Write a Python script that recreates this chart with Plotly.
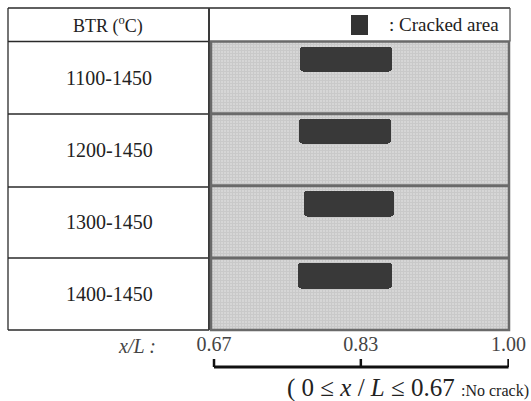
import plotly.graph_objects as go

# ---- data ----
btr_ranges = ["1100-1450", "1200-1450", "1300-1450", "1400-1450"]
crack_start = [0.764, 0.763, 0.769, 0.762]   # x/L
crack_end = [0.868, 0.867, 0.870, 0.868]     # x/L
tick_vals = [0.667, 0.833, 1.0]
tick_text = ["0.67", "0.83", "1.00"]

W, H = 531, 401
SERIF = "Liberation Serif"

def px(x):
    return x / W

def py(y):
    return 1 - y / H

row_top_px = 41.5
row_bot_px = 330
panel_l, panel_r = 211, 509

centers = [i + 0.5 for i in range(len(btr_ranges))]

fig = go.Figure()
fig.add_trace(go.Bar(
    orientation="h",
    y=centers,
    x=[e - s for s, e in zip(crack_start, crack_end)],
    base=crack_start,
    width=0.35,
    offset=-0.43,
    marker=dict(color="#393939", line=dict(width=0), cornerradius=3),
    hoverinfo="skip",
    showlegend=False,
))

shapes = []
line_col = "#2a2a2a"
for yy in [8, row_top_px, 114, 187, 258, row_bot_px]:
    shapes.append(dict(type="line", xref="paper", yref="paper",
                       x0=px(8), x1=px(209), y0=py(yy), y1=py(yy),
                       line=dict(color=line_col, width=1.3)))
shapes.append(dict(type="line", xref="paper", yref="paper",
                   x0=px(209), x1=px(510), y0=py(8), y1=py(8),
                   line=dict(color=line_col, width=1.3)))
shapes.append(dict(type="line", xref="paper", yref="paper",
                   x0=px(8), x1=px(8), y0=py(8), y1=py(row_bot_px),
                   line=dict(color=line_col, width=1.3)))
shapes.append(dict(type="line", xref="paper", yref="paper",
                   x0=px(209), x1=px(209), y0=py(8), y1=py(row_bot_px),
                   line=dict(color="#3a3a3a", width=2)))
shapes.append(dict(type="line", xref="paper", yref="paper",
                   x0=px(510), x1=px(510), y0=py(8), y1=py(row_top_px),
                   line=dict(color="#555555", width=1.3)))
for k in range(1, len(btr_ranges)):
    shapes.append(dict(type="line", xref="paper", yref="y",
                       x0=px(panel_l), x1=px(panel_r), y0=k, y1=k,
                       line=dict(color="#6a6a6a", width=3)))
shapes.append(dict(type="rect", xref="paper", yref="paper",
                   x0=px(panel_l), x1=px(panel_r), y0=py(row_top_px), y1=py(row_bot_px),
                   line=dict(color="#6a6a6a", width=2.5)))
shapes.append(dict(type="rect", xref="paper", yref="paper",
                   x0=px(351), x1=px(368), y0=py(15), y1=py(35),
                   fillcolor="#333333", line=dict(width=0)))
br_y, br_top = 367, 359
shapes.append(dict(type="line", xref="x", yref="paper",
                   x0=tick_vals[0], x1=tick_vals[-1], y0=py(br_y), y1=py(br_y),
                   line=dict(color="#111111", width=3)))
for tv in tick_vals:
    shapes.append(dict(type="line", xref="x", yref="paper",
                       x0=tv, x1=tv, y0=py(br_y), y1=py(br_top),
                       line=dict(color="#111111", width=2.5)))

annotations = []
annotations.append(dict(xref="paper", yref="paper", x=px(108), y=py(25),
                        xanchor="center", yanchor="middle",
                        text="BTR (<sup>o</sup>C)", showarrow=False,
                        font=dict(family=SERIF, size=18, color="#222")))
annotations.append(dict(xref="paper", yref="paper", x=px(501), y=py(24),
                        xanchor="right", yanchor="middle",
                        text=": Cracked area", showarrow=False,
                        font=dict(family=SERIF, size=19, color="#222")))
for lab, c in zip(btr_ranges, centers):
    annotations.append(dict(xref="paper", yref="y", x=px(109), y=c,
                            xanchor="center", yanchor="middle",
                            text=lab, showarrow=False,
                            font=dict(family=SERIF, size=20, color="#222")))
annotations.append(dict(xref="paper", yref="paper", x=px(158), y=py(346),
                        xanchor="right", yanchor="middle",
                        text="<i>x/L :</i>", showarrow=False,
                        font=dict(family=SERIF, size=20, color="#444")))
annotations.append(dict(xref="paper", yref="paper", x=px(531), y=py(388),
                        xanchor="right", yanchor="middle",
                        text="( 0 ≤ <i>x</i> / <i>L</i> ≤ 0.67 <span style='font-size:16px'>:No crack)</span>",
                        showarrow=False,
                        font=dict(family=SERIF, size=25, color="#222")))

fig.update_layout(
    width=W, height=H,
    margin=dict(l=0, r=0, t=0, b=0, autoexpand=False),
    paper_bgcolor="white",
    plot_bgcolor="#d6d6d6",
    showlegend=False,
    bargap=0,
    xaxis=dict(domain=[px(panel_l), px(panel_r)], range=[0.6636, 1.0005],
               tickmode="array", tickvals=tick_vals, ticktext=tick_text,
               showgrid=False, zeroline=False, showline=False, ticks="",
               minor=dict(tickmode="linear", tick0=0.6636, dtick=0.0034,
                          showgrid=True, gridcolor="#c9c9c9", gridwidth=1, ticks=""),
               automargin=False, ticklabelstandoff=0,
               tickfont=dict(family=SERIF, size=20, color="#444"),
               fixedrange=True),
    yaxis=dict(domain=[py(row_bot_px), py(row_top_px)], range=[len(btr_ranges), 0],
               showgrid=False, zeroline=False, showline=False, automargin=False,
               minor=dict(tickmode="linear", tick0=0, dtick=0.042,
                          showgrid=True, gridcolor="#c9c9c9", gridwidth=1, ticks=""),
               showticklabels=False, ticks="", fixedrange=True),
    shapes=shapes,
    annotations=annotations,
)

fig.write_html("out.html", config={"displayModeBar": False},
               post_script="document.body.style.margin='0';document.body.style.overflow='hidden';")
